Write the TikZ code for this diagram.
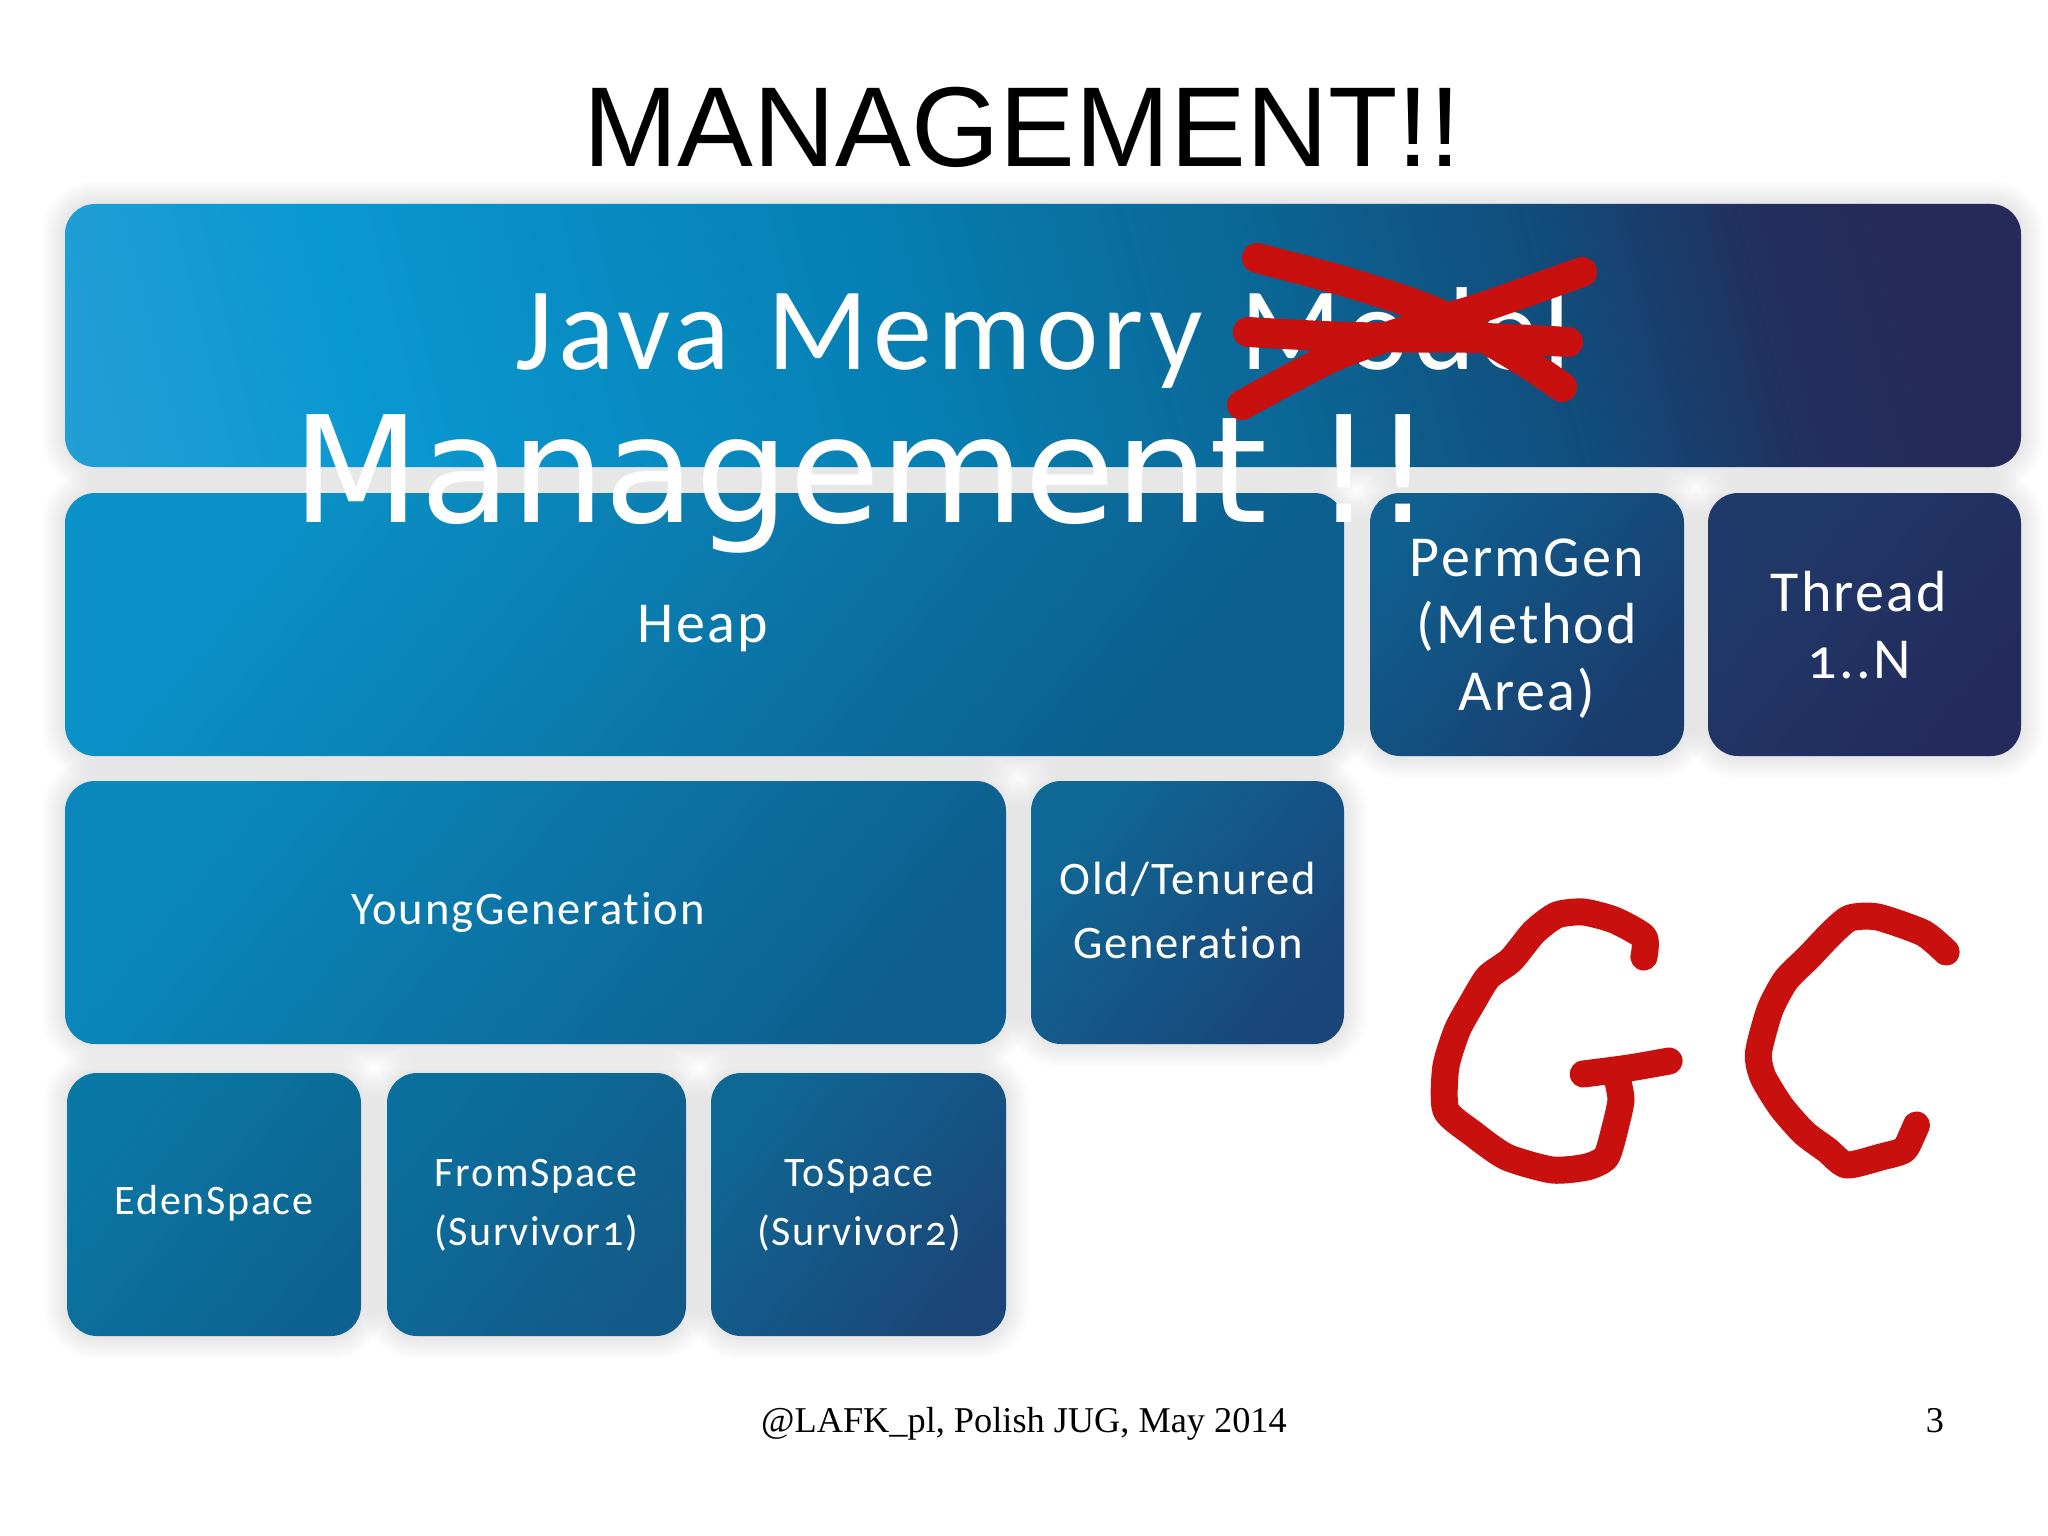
\documentclass[tikz,border=0pt]{standalone}
\usepackage{fontspec}
\setmainfont{Liberation Serif}
\newfontfamily\titlefont{Liberation Sans}
\newfontfamily\boxfont[Numbers=OldStyle,LetterSpace=4,WordSpace=1.2,Ligatures=NoCommon]{Carlito}
\newfontfamily\bigfont{DejaVu Sans}
\definecolor{inkred}{HTML}{C8100F}
\definecolor{sa}{HTML}{28A0D6}
\definecolor{sb}{HTML}{0A98D1}
\definecolor{sc}{HTML}{0680B4}
\definecolor{sd}{HTML}{0B6695}
\definecolor{se}{HTML}{124B7A}
\definecolor{sf}{HTML}{21305F}
\definecolor{sg}{HTML}{252A5A}
\pgfdeclarehorizontalshading{topbarsh}{100bp}{color(0bp)=(sa); color(18bp)=(sa); color(29bp)=(sb); color(45bp)=(sc); color(57bp)=(sd); color(66bp)=(se); color(72bp)=(sf); color(76bp)=(sg); color(100bp)=(sg)}
\tikzset{
  blk/.style={rounded corners=15pt},
  heading/.style={font=\titlefont\fontsize{56.8}{60}\selectfont,text=black,inner sep=0pt},
  big/.style={font=\bigfont\fontsize{74}{80}\selectfont,text=white,inner sep=0pt},
  jmm/.style={font=\boxfont\fontsize{59}{70}\selectfont,text=white,inner sep=0pt},
  lbl/.style={font=\boxfont\fontsize{29}{33.5}\selectfont,text=white,align=center,inner sep=0pt},
  lblm/.style={font=\boxfont\fontsize{23.3}{32}\selectfont,text=white,align=center,inner sep=0pt},
  lbls/.style={font=\boxfont\fontsize{21}{29.5}\selectfont,text=white,align=center,inner sep=0pt},
  foot/.style={font=\fontsize{18.15}{22}\selectfont,text=black,inner sep=0pt},
  inkx/.style={draw=inkred,line width=15pt,line cap=round,line join=round},
  inkgc/.style={draw=inkred,line width=13.5pt,line cap=round,line join=round},
}
\newcommand{\shdw}[4]{\foreach \d in {2,4,...,24}{\fill[black,opacity=.0095,rounded corners={15pt+\d*0.5pt}] (#1-\d,#2-\d) rectangle (#3+\d,#4+\d);}}
\newcommand{\blkg}[6]{\definecolor{ca}{HTML}{#5}\definecolor{cb}{HTML}{#6}\path[blk,left color=ca,right color=cb,shading angle=50] (#1,#2) rectangle (#3,#4);}
\begin{document}
\begin{tikzpicture}[x=0.5pt,y=-0.5pt]
\useasboundingbox (0,0) rectangle (2048,1535);
\fill[white] (0,0) rectangle (2048,1535);
% soft shadows
\shdw{65}{204}{2021}{467}
\shdw{65}{493}{1344}{756}
\shdw{1370}{493}{1684}{756}
\shdw{1708}{493}{2021}{756}
\shdw{65}{781}{1006}{1044}
\shdw{1031}{781}{1344}{1044}
\shdw{67}{1073}{361}{1336}
\shdw{387}{1073}{686}{1336}
\shdw{711}{1073}{1006}{1336}
% blocks
\path[blk,shading=topbarsh,shading angle=14] (65,204) rectangle (2021,467);
\blkg{65}{493}{1344}{756}{0A92C8}{0C5E8D}
\blkg{1370}{493}{1684}{756}{0F5F8F}{1A3B6B}
\blkg{1708}{493}{2021}{756}{1F3A6A}{232A5C}
\blkg{65}{781}{1006}{1044}{0A88BC}{0E5F8F}
\blkg{1031}{781}{1344}{1044}{0F6896}{1A4578}
\blkg{67}{1073}{361}{1336}{0A78A6}{0E628F}
\blkg{387}{1073}{686}{1336}{0B6F9D}{135A88}
\blkg{711}{1073}{1006}{1336}{0F6794}{1B4677}
% texts
\node[heading] (title) at (1022,127) {MANAGEMENT!!};
\node[jmm,anchor=base] (jmmtext) at (1043,370) {Java Memory Model};
\node[big,anchor=base] (mgmt) at (863,522) {Management !!};
\node[lblm] (heap) at (703,629) {\fontsize{29}{33}\selectfont Heap};
\node[lbl] (perm) at (1527,629) {PermGen\\(Method\\Area)};
\node[lbl] (thread) at (1859,625) {Thread\\1..N};
\node[lblm] (young) at (528,912) {YoungGeneration};
\node[lblm] (old) at (1188,910) {Old/Tenured\\Generation};
\node[lbls] (eden) at (214,1203) {EdenSpace};
\node[lbls] (from) at (536,1205) {FromSpace\\(Survivor1)};
\node[lbls] (to) at (859,1205) {ToSpace\\(Survivor2)};
\node[foot,anchor=base] (footer) at (1024,1432) {@LAFK\_pl, Polish JUG, May 2014};
\node[foot,anchor=base] (pagenum) at (1935,1432) {3};
% red strike-through
\draw[inkx] plot[smooth,tension=.5] coordinates {(1257,258) (1350,283) (1437,313) (1517,357) (1562,387)};
\draw[inkx] plot[smooth,tension=.5] coordinates {(1248,332) (1350,337) (1483,338) (1568,342)};
\draw[inkx] plot[smooth,tension=.5] coordinates {(1242,405) (1333,357) (1417,327) (1483,307) (1582,272)};
% red GC
\begin{scope}[shift={(1400,0)},xscale=1.145,shift={(-1400,0)}]
\draw[inkgc] plot[smooth,tension=.4] coordinates {(1613,957) (1613,937) (1587,920) (1560,912) (1537,915) (1517,932) (1497,960) (1477,977) (1463,1003) (1450,1030) (1440,1067) (1440,1110) (1463,1133) (1493,1157) (1533,1170) (1563,1167) (1580,1157) (1588,1127) (1593,1100) (1590,1080)};
\draw[inkgc] plot[smooth,tension=.4] coordinates {(1560,1074) (1600,1068) (1635,1061)};
\draw[inkgc] plot[smooth,tension=.4] coordinates {(1877,952) (1857,933) (1817,917) (1793,918) (1777,933) (1757,957) (1737,980) (1723,1010) (1713,1053) (1717,1077) (1733,1107) (1753,1133) (1773,1150) (1790,1165) (1820,1157) (1840,1150) (1848,1133) (1851,1125)};
\end{scope}
\end{tikzpicture}
\end{document}
